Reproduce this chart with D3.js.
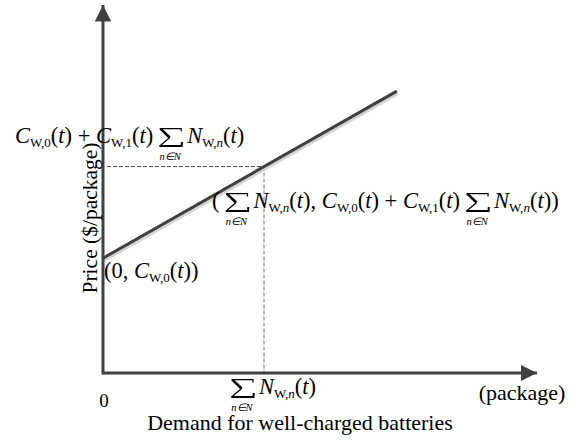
<!DOCTYPE html>
<html>
<head>
<meta charset="utf-8">
<script src="https://cdn.jsdelivr.net/npm/d3@7"></script>
<style>
  body { margin: 0; background: #fff; }
  svg { display: block; }
</style>
</head>
<body>
<svg width="579" height="444"></svg>
<script>
// schematic values (arbitrary units)
var qDomain = [0, 10]
var pDomain = [0, 10]
var lineQ = [0, 6.77]
var lineP = [3.12, 7.66]
var demandQ = [3.71]
var demandP = [5.61]

var svg = d3.select('svg')
var font = 'Liberation Serif, Times New Roman, serif'
var ink = '#404040'

var x = d3.scaleLinear().domain(qDomain).range([103, 537])
var y = d3.scaleLinear().domain(pDomain).range([373, 5])

// arrow marker
var defs = svg.append('defs')
defs.append('marker')
  .attr('id', 'arrow')
  .attr('viewBox', '0 0 10 10')
  .attr('refX', 10).attr('refY', 5)
  .attr('markerWidth', 5.5).attr('markerHeight', 5.5)
  .attr('markerUnits', 'strokeWidth')
  .attr('orient', 'auto')
  .append('path')
  .attr('d', 'M0,0 L10,5 L0,10 Z')
  .attr('fill', ink)

// dashed guides
svg.append('line')
  .attr('x1', x(0) + 4).attr('x2', x(demandQ[0]))
  .attr('y1', y(demandP[0])).attr('y2', y(demandP[0]))
  .attr('stroke', '#444').attr('stroke-width', 1)
  .attr('stroke-dasharray', '4,2')
svg.append('line')
  .attr('x1', x(demandQ[0])).attr('x2', x(demandQ[0]))
  .attr('y1', y(demandP[0])).attr('y2', y(0))
  .attr('stroke', '#888').attr('stroke-width', 1.2)
  .attr('stroke-dasharray', '4,2')

// price line with light shadow
var pts = lineQ.map((q, i) => [x(q), y(lineP[i])])
svg.append('path')
  .attr('d', d3.line()(pts))
  .attr('transform', 'translate(1,2.5)')
  .attr('stroke', '#d4d4d4').attr('stroke-width', 3).attr('fill', 'none')
svg.append('path')
  .attr('d', d3.line()(pts))
  .attr('stroke', ink).attr('stroke-width', 3).attr('fill', 'none')

// axes
svg.append('line')
  .attr('x1', x(0)).attr('y1', y(0)).attr('x2', x(qDomain[1])).attr('y2', y(0))
  .attr('stroke', ink).attr('stroke-width', 3)
  .attr('marker-end', 'url(#arrow)')
svg.append('line')
  .attr('x1', x(0)).attr('y1', y(0) + 1.5).attr('x2', x(0)).attr('y2', y(pDomain[1]))
  .attr('stroke', ink).attr('stroke-width', 3)
  .attr('marker-end', 'url(#arrow)')

// math text helper: pieces laid out left to right
var styles = {
  r: { size: 22.5, dy: 0 },
  i: { size: 22.5, dy: 0, italic: true },
  s: { size: 13, dy: 4 },
  si: { size: 13, dy: 4, italic: true }
}

// summation sign drawn as a path (w x h, baseline-relative)
function drawSigma(g, x0, w, h, top) {
  var s = g.append('g').attr('transform', 'translate(' + x0 + ',' + top + ')')
  s.append('path')
    .attr('d', 'M' + w + ',3.5 L' + w + ',0.6 L0.5,0.6')
    .attr('stroke', '#000').attr('stroke-width', 1.2).attr('fill', 'none')
  s.append('path')
    .attr('d', 'M1.2,0.6 L' + (w * 0.48) + ',' + (h * 0.5))
    .attr('stroke', '#000').attr('stroke-width', 2.6).attr('fill', 'none')
  s.append('path')
    .attr('d', 'M' + (w * 0.48) + ',' + (h * 0.5) + ' L0.6,' + (h - 1))
    .attr('stroke', '#000').attr('stroke-width', 1.2).attr('fill', 'none')
  s.append('path')
    .attr('d', 'M0.3,' + (h - 1) + ' L' + (w + 0.5) + ',' + (h - 1) + ' L' + (w + 0.8) + ',' + (h - 5))
    .attr('stroke', '#000').attr('stroke-width', 2).attr('fill', 'none')
}

function drawMath(x0, y0, parts) {
  var g = svg.append('g').attr('transform', 'translate(' + x0 + ',' + y0 + ')')
  var cx = 0
  parts.forEach(p => {
    if (p[0] === 'sum') {
      var w = 22
      cx += 6
      drawSigma(g, cx, w, 19, -15)
      g.append('text')
        .attr('x', cx + w / 2).attr('y', 16.5)
        .attr('text-anchor', 'middle')
        .attr('font-family', font)
        .attr('font-size', 10.5)
        .attr('font-style', 'italic')
        .text('n\u2208N')
      cx += w + 6
      return
    }
    var st = styles[p[0]]
    var t = g.append('text')
      .attr('x', cx).attr('y', st.dy)
      .attr('font-family', font)
      .attr('font-size', st.size)
      .attr('font-style', st.italic ? 'italic' : 'normal')
      .style('white-space', 'pre')
      .text(p[1])
    cx += t.node().getComputedTextLength()
  })
  return g
}

var tArg = [['r', '('], ['i', 't'], ['r', ')']]
var sumN = [['sum'], ['i', 'N'], ['s', 'W,'], ['si', 'n']].concat(tArg)
var priceExpr = [['i', 'C'], ['s', 'W,0']].concat(tArg, [['r', ' + '], ['i', 'C'], ['s', 'W,1']], tArg, sumN)

drawMath(15, 143, priceExpr)
drawMath(212, 208, [['r', '(']].concat(sumN, [['r', ', ']], priceExpr, [['r', ')']]))
drawMath(x(0) + 1, 278, [['r', '(0, '], ['i', 'C'], ['s', 'W,0']].concat(tArg, [['r', ')']]))
drawMath(x(demandQ[0]) - 39, 394, sumN)

// plain labels
svg.append('text')
  .attr('x', x(0) + 1).attr('y', 407)
  .attr('text-anchor', 'middle')
  .attr('font-family', font).attr('font-size', 19)
  .text('0')
svg.append('text')
  .attr('x', 522).attr('y', 400)
  .attr('text-anchor', 'middle')
  .attr('font-family', font).attr('font-size', 22)
  .text('(package)')
svg.append('text')
  .attr('x', 300).attr('y', 430)
  .attr('text-anchor', 'middle')
  .attr('font-family', font).attr('font-size', 22)
  .text('Demand for well-charged batteries')
svg.append('text')
  .attr('transform', 'translate(97,218) rotate(-90)')
  .attr('text-anchor', 'middle')
  .attr('font-family', font).attr('font-size', 21.5)
  .text('Price ($/package)')
</script>
</body>
</html>
